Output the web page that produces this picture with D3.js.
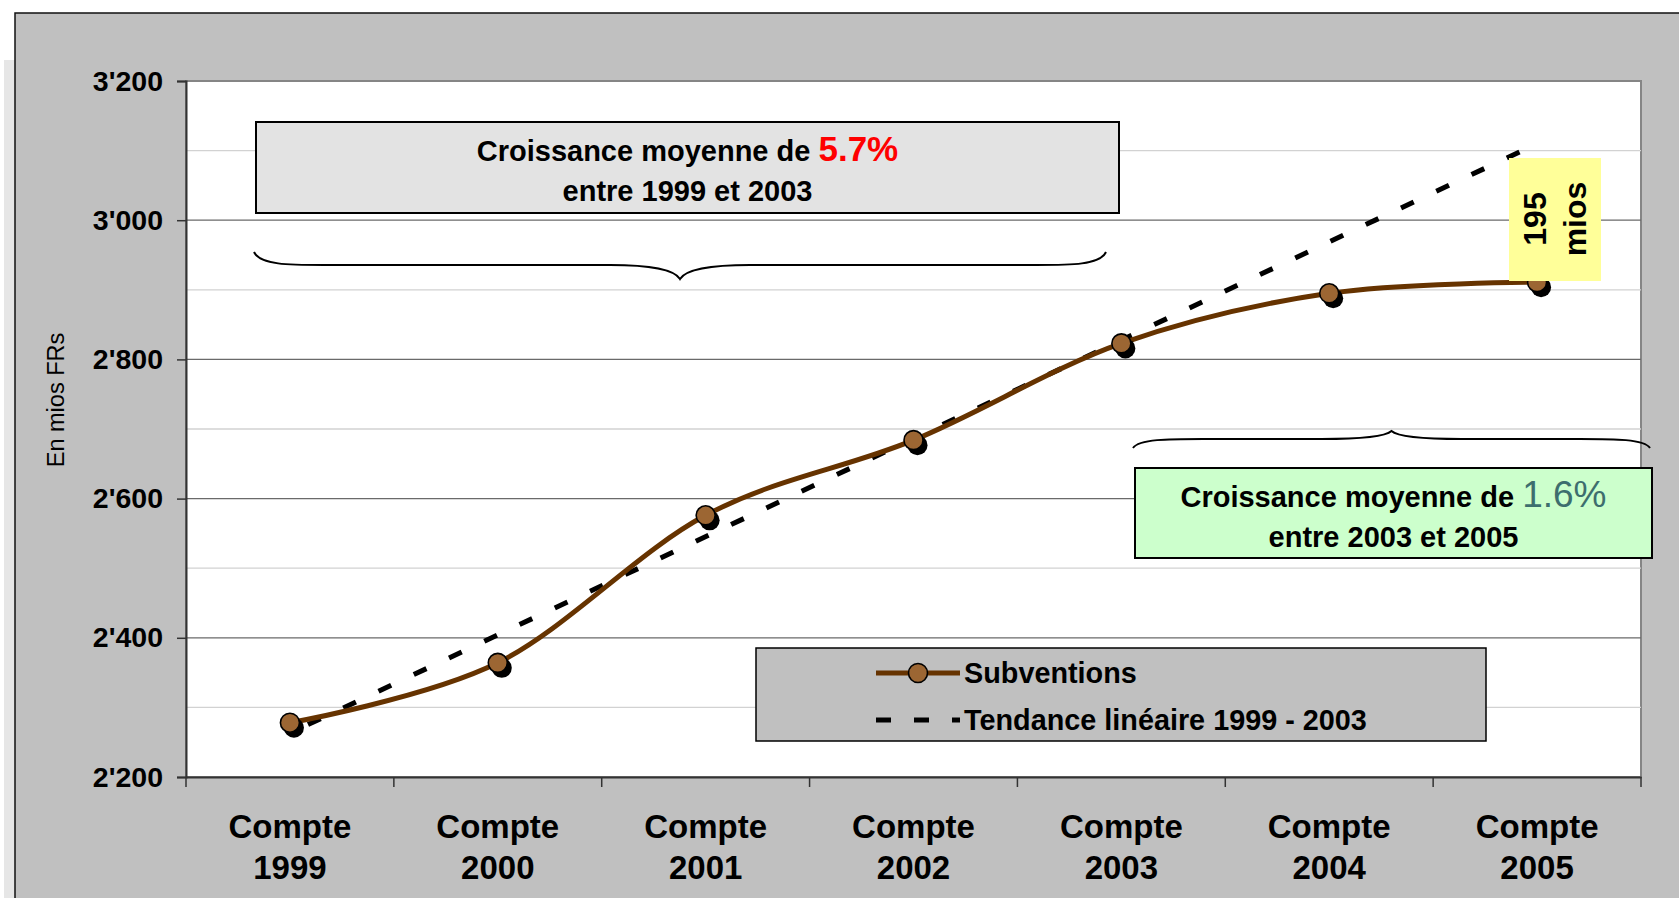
<!doctype html>
<html>
<head>
<meta charset="utf-8">
<style>
  body { margin: 0; background: #fff; }
  svg text { font-family: "Liberation Sans", Arial, sans-serif; }
</style>
<script src="https://d3js.org/d3.v7.min.js"></script>
</head>
<body>
<svg width="1679" height="898"></svg>
<script>
// data (mios FRs)
var categories = ["Compte 1999", "Compte 2000", "Compte 2001", "Compte 2002", "Compte 2003", "Compte 2004", "Compte 2005"];
var subventions = [2278, 2364, 2576, 2684, 2823, 2895, 2911];
var trendCats = ["Compte 1999", "Compte 2005"];
var trendValues = [2263, 3110];
var yTicks = [2200, 2400, 2600, 2800, 3000, 3200];
var yMinor = [2300, 2500, 2700, 2900, 3100];
var seriesNames = ["Subventions", "Tendance linéaire 1999 - 2003"];

var svg = d3.select("svg");
var plotLeft = 186, plotRight = 1641, plotTop = 81, plotBottom = 777;

var x = d3.scaleBand().domain(categories).range([plotLeft, plotRight]).padding(0);
var y = d3.scaleLinear().domain([2200, 3200]).range([plotBottom, plotTop]);
var fmt = d3.formatLocale({decimal: ".", thousands: "'", grouping: [3], currency: ["", ""]}).format(",");
var cx = function(c) { return x(c) + x.bandwidth() / 2; };

// background frames
svg.append("rect").attr("x", 4).attr("y", 60).attr("width", 20).attr("height", 900).attr("fill", "#e6e6e6");
svg.append("rect").attr("x", 15).attr("y", 13).attr("width", 1700).attr("height", 900)
   .attr("fill", "#c0c0c0").attr("stroke", "#111").attr("stroke-width", 1.5);
svg.append("rect").attr("x", plotLeft).attr("y", plotTop).attr("width", plotRight - plotLeft).attr("height", plotBottom - plotTop)
   .attr("fill", "#fff").attr("stroke", "#858585").attr("stroke-width", 2);

// grid
svg.append("g").selectAll("line").data(yMinor).enter().append("line")
   .attr("x1", plotLeft).attr("x2", plotRight).attr("y1", function(d) { return y(d); }).attr("y2", function(d) { return y(d); })
   .attr("stroke", "#d2d2d2").attr("stroke-width", 1.3);
svg.append("g").selectAll("line").data(yTicks.slice(1, -1)).enter().append("line")
   .attr("x1", plotLeft).attr("x2", plotRight).attr("y1", function(d) { return y(d); }).attr("y2", function(d) { return y(d); })
   .attr("stroke", "#6a6a6a").attr("stroke-width", 1.3);

// y axis
var gy = svg.append("g").attr("transform", "translate(" + plotLeft + ",0)")
   .call(d3.axisLeft(y).tickValues(yTicks).tickSize(9).tickPadding(14).tickFormat(fmt));
gy.select(".domain").attr("stroke", "#333").attr("stroke-width", 2);
gy.selectAll(".tick line").attr("stroke", "#333").attr("stroke-width", 1.5);
gy.selectAll(".tick text").attr("fill", "#000").attr("font-size", "28.5px").attr("font-weight", "bold")
   .attr("font-family", "'Liberation Sans', Arial, sans-serif");

// x axis
var gx = svg.append("g").attr("transform", "translate(0," + plotBottom + ")")
   .call(d3.axisBottom(x).tickSize(0).tickPadding(0));
gx.select(".domain").attr("stroke", "#333").attr("stroke-width", 2);
gx.selectAll(".tick text").each(function(d) {
  var t = d3.select(this).text(null).attr("fill", "#000").attr("font-size", "33px").attr("font-weight", "bold")
     .attr("font-family", "'Liberation Sans', Arial, sans-serif").attr("dy", null).attr("y", 0);
  var parts = d.split(" ");
  t.append("tspan").attr("x", 0).attr("y", 61).text(parts[0]);
  t.append("tspan").attr("x", 0).attr("y", 102).text(parts[1]);
});
gx.selectAll(".bound").data(categories.concat([null])).enter().append("line")
   .attr("class", "bound")
   .attr("x1", function(d) { return d ? x(d) : plotRight; }).attr("x2", function(d) { return d ? x(d) : plotRight; })
   .attr("y1", 0).attr("y2", 10).attr("stroke", "#333").attr("stroke-width", 1.5);

// y title
svg.append("text").attr("transform", "translate(64,400) rotate(-90)").attr("text-anchor", "middle")
   .attr("font-size", "23.5px").attr("fill", "#000").text("En mios FRs");

// trend
var trendData = trendCats.map(function(c, i) { return {c: c, v: trendValues[i]}; });
svg.append("path").datum(trendData)
   .attr("d", d3.line().x(function(d) { return cx(d.c); }).y(function(d) { return y(d.v); }))
   .attr("fill", "none").attr("stroke", "#000").attr("stroke-width", 5).attr("stroke-dasharray", "14 25")
   .attr("stroke-dashoffset", -20);

// series
var data = categories.map(function(c, i) { return {c: c, v: subventions[i]}; });
svg.append("path").datum(data)
   .attr("d", d3.line().curve(d3.curveCardinal.tension(0)).x(function(d) { return cx(d.c); }).y(function(d) { return y(d.v); }))
   .attr("fill", "none").attr("stroke", "#663300").attr("stroke-width", 5);
svg.append("g").selectAll("circle").data(data).enter().append("circle")
   .attr("cx", function(d) { return cx(d.c) + 4; }).attr("cy", function(d) { return y(d.v) + 5; })
   .attr("r", 10).attr("fill", "#000");
svg.append("g").selectAll("circle").data(data).enter().append("circle")
   .attr("cx", function(d) { return cx(d.c); }).attr("cy", function(d) { return y(d.v); })
   .attr("r", 9.5).attr("fill", "#9c6633").attr("stroke", "#000").attr("stroke-width", 1.6);

// braces
function brace(x1, x2, yEnd, yFlat, yTip) {
  var xc = (x1 + x2) / 2;
  return "M" + x1 + "," + yEnd +
    " C" + (x1 + 6) + "," + yFlat + " " + (x1 + 35) + "," + yFlat + " " + (x1 + 70) + "," + yFlat +
    " L" + (xc - 70) + "," + yFlat +
    " C" + (xc - 30) + "," + yFlat + " " + (xc - 6) + "," + (yFlat + (yTip - yFlat) * 0.3) + " " + xc + "," + yTip +
    " C" + (xc + 6) + "," + (yFlat + (yTip - yFlat) * 0.3) + " " + (xc + 30) + "," + yFlat + " " + (xc + 70) + "," + yFlat +
    " L" + (x2 - 70) + "," + yFlat +
    " C" + (x2 - 35) + "," + yFlat + " " + (x2 - 6) + "," + yFlat + " " + x2 + "," + yEnd;
}
svg.append("path").attr("d", brace(254, 1106, 252, 265, 279)).attr("fill", "none").attr("stroke", "#000").attr("stroke-width", 2);
svg.append("path").attr("d", brace(1133, 1650, 448, 439, 431)).attr("fill", "none").attr("stroke", "#000").attr("stroke-width", 2);

// annotation boxes
function note(x0, y0, w, h, fill, pct, pctSize, pctColor, pctWeight, years) {
  svg.append("rect").attr("x", x0).attr("y", y0).attr("width", w).attr("height", h)
     .attr("fill", fill).attr("stroke", "#000").attr("stroke-width", 2);
  var t = svg.append("text").attr("x", x0 + w / 2).attr("y", y0 + 39).attr("text-anchor", "middle")
     .attr("font-size", "29px").attr("font-weight", "bold").attr("fill", "#000");
  t.append("tspan").text("Croissance moyenne de ");
  t.append("tspan").attr("font-size", pctSize).attr("font-weight", pctWeight).attr("fill", pctColor).text(pct);
  svg.append("text").attr("x", x0 + w / 2).attr("y", y0 + 79).attr("text-anchor", "middle")
     .attr("font-size", "29px").attr("font-weight", "bold").attr("fill", "#000").text(years);
}
note(256, 122, 863, 91, "#e3e3e3", "5.7%", "35px", "#ff0000", "bold", "entre 1999 et 2003");
note(1135, 468, 517, 90, "#ccffcc", "1.6%", "37px", "#3d6e6e", "normal", "entre 2003 et 2005");

// 195 mios label
svg.append("rect").attr("x", 1509).attr("y", 158).attr("width", 92).attr("height", 123).attr("fill", "#ffff99");
svg.append("text").attr("transform", "translate(1546,219) rotate(-90)").attr("text-anchor", "middle")
   .attr("font-size", "32px").attr("font-weight", "bold").text("195");
svg.append("text").attr("transform", "translate(1586,219) rotate(-90)").attr("text-anchor", "middle")
   .attr("font-size", "32px").attr("font-weight", "bold").text("mios");

// legend
var lg = svg.append("g");
lg.append("rect").attr("x", 756).attr("y", 648).attr("width", 730).attr("height", 93)
  .attr("fill", "#c0c0c0").attr("stroke", "#000").attr("stroke-width", 1.5);
lg.append("line").attr("x1", 876).attr("x2", 960).attr("y1", 673).attr("y2", 673)
  .attr("stroke", "#663300").attr("stroke-width", 5);
lg.append("circle").attr("cx", 918).attr("cy", 673).attr("r", 9.5).attr("fill", "#9c6633").attr("stroke", "#000").attr("stroke-width", 1.6);
lg.append("line").attr("x1", 876).attr("x2", 960).attr("y1", 720).attr("y2", 720)
  .attr("stroke", "#000").attr("stroke-width", 5).attr("stroke-dasharray", "15 23");
lg.selectAll("text.lt").data(seriesNames).enter().append("text").attr("class", "lt")
  .attr("x", 964).attr("y", function(d, i) { return 683 + i * 47; })
  .attr("font-size", "28.8px").attr("font-weight", "bold").attr("fill", "#000").text(function(d) { return d; });
</script>
</body>
</html>
